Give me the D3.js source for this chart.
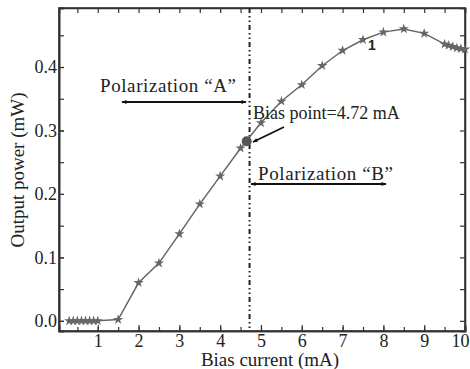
<!DOCTYPE html>
<html>
<head>
<meta charset="utf-8">
<script src="https://cdn.jsdelivr.net/npm/d3@7"></script>
<style>
  body { margin: 0; background: #fff; }
  text { font-family: "Liberation Serif", "Times New Roman", serif; }
</style>
</head>
<body>
<script>
// measured points, bias current (mA) vs output power (mW)
var current = [0.3, 0.4, 0.5, 0.6, 0.7, 0.8, 0.9, 1.0, 1.5, 2.0, 2.5, 3.0, 3.5, 4.0, 4.5,
               5.0, 5.5, 6.0, 6.5, 7.0, 7.5, 8.0, 8.5, 9.0, 9.5, 9.6, 9.7, 9.8, 9.9, 10.0];
var power = [0, 0, 0, 0, 0, 0, 0, 0, 0.002, 0.060, 0.091, 0.137, 0.184, 0.228, 0.272,
             0.312, 0.346, 0.372, 0.402, 0.426, 0.443, 0.455, 0.460, 0.453, 0.436, 0.434, 0.432, 0.430, 0.429, 0.428];
var biasPoint = [4.65, 0.283];
var biasLine = 4.72;
var xTicks = [1, 2, 3, 4, 5, 6, 7, 8, 9, 10];
var yTicks = [0.0, 0.1, 0.2, 0.3, 0.4];

var W = 470, H = 369;
var m = { left: 59, right: 5, top: 8, bottom: 38 };

var svg = d3.select("body").append("svg").attr("width", W).attr("height", H);

var x = d3.scaleLinear().domain([0.05, 10]).range([m.left, W - m.right]);
var y = d3.scaleLinear().domain([-0.016, 0.493]).range([H - m.bottom, m.top]);

var defs = svg.append("defs");
defs.append("marker").attr("id", "ah").attr("viewBox", "0 0 10 10")
  .attr("refX", 9).attr("refY", 5).attr("markerWidth", 9).attr("markerHeight", 5)
  .attr("orient", "auto-start-reverse").attr("markerUnits", "userSpaceOnUse")
  .append("path").attr("d", "M0,1 L10,5 L0,9 Z").attr("fill", "#111");

var minorX = d3.range(0.5, 10.01, 0.5);
var minorY = d3.range(0, 0.49, 0.05);

// axes (ticks drawn inward)
var gx = svg.append("g").attr("transform", "translate(0," + (H - m.bottom) + ")");
gx.call(d3.axisBottom(x).tickValues(minorX).tickSize(-4).tickFormat(""));
gx.selectAll(".tick text").remove();
var gx2 = svg.append("g").attr("transform", "translate(0," + (H - m.bottom) + ")");
gx2.call(d3.axisBottom(x).tickValues(xTicks).tickSize(-6).tickFormat(d3.format("d")));

var gt = svg.append("g").attr("transform", "translate(0," + m.top + ")");
gt.call(d3.axisTop(x).tickValues(minorX).tickSize(-5).tickFormat(""));

var gy = svg.append("g").attr("transform", "translate(" + m.left + ",0)");
gy.call(d3.axisLeft(y).tickValues(minorY).tickSize(-5).tickFormat(""));
var gy2 = svg.append("g").attr("transform", "translate(" + m.left + ",0)");
gy2.call(d3.axisLeft(y).tickValues(yTicks).tickSize(-5).tickFormat(d3.format(".1f")));

var gr = svg.append("g").attr("transform", "translate(" + (W - m.right) + ",0)");
gr.call(d3.axisRight(y).tickValues(minorY).tickSize(-5).tickFormat(""));

svg.selectAll("g").attr("font-family", null).attr("font-size", null);
svg.selectAll(".domain").attr("stroke", "#333").attr("stroke-width", 1.6);
svg.selectAll(".tick line").attr("stroke", "#333").attr("stroke-width", 1.2);
svg.selectAll(".tick text").style("font-family", "'Liberation Serif', serif").style("font-size", "18px")
  .attr("fill", "#222");
gx2.selectAll(".tick text").attr("dy", "0.72em").attr("y", 3)
  .attr("dx", function (d) { return d === 10 ? -5 : 0; });
gy2.selectAll(".tick text").attr("x", -2);

// frame
svg.append("rect").attr("x", m.left).attr("y", m.top)
  .attr("width", W - m.right - m.left).attr("height", H - m.bottom - m.top)
  .attr("fill", "none").attr("stroke", "#333").attr("stroke-width", 1.6);

// bias line
svg.append("line").attr("x1", x(biasLine)).attr("x2", x(biasLine))
  .attr("y1", m.top).attr("y2", H - m.bottom)
  .attr("stroke", "#222").attr("stroke-width", 2).attr("stroke-dasharray", "5,3,1.5,3,1.5,3");

// curve
var pts = current.map(function (c, i) { return [c, power[i]]; });
svg.append("path").attr("d", d3.line().x(function (d) { return x(d[0]); }).y(function (d) { return y(d[1]); })(pts))
  .attr("fill", "none").attr("stroke", "#666").attr("stroke-width", 1.5);

var star = d3.symbol().type(d3.symbolStar).size(32);
svg.selectAll("path.pt").data(pts).enter().append("path").attr("class", "pt")
  .attr("d", star)
  .attr("transform", function (d) { return "translate(" + x(d[0]) + "," + y(d[1]) + ")"; })
  .attr("fill", "#666");

svg.append("circle").attr("cx", x(biasPoint[0])).attr("cy", y(biasPoint[1])).attr("r", 5)
  .attr("fill", "#555");

// curve label
svg.append("text").attr("x", 368).attr("y", 50).style("font-family", "'Liberation Sans', Arial, sans-serif")
  .attr("font-weight", "bold").attr("font-size", 14).attr("fill", "#222").text("1");

// annotations
function arrow(x1, y1, x2, y2, both) {
  var l = svg.append("line").attr("x1", x1).attr("y1", y1).attr("x2", x2).attr("y2", y2)
    .attr("stroke", "#111").attr("stroke-width", 1.8).attr("marker-end", "url(#ah)");
  if (both) l.attr("marker-start", "url(#ah)");
}
svg.append("text").attr("x", 100).attr("y", 92).attr("font-size", 19).attr("fill", "#222")
  .attr("textLength", 136).text("Polarization \u201CA\u201D");
arrow(246, 102, 122, 102, true);

svg.append("text").attr("x", 253).attr("y", 119).attr("font-size", 18).attr("fill", "#222")
  .text("Bias point=4.72 mA");
arrow(284, 127, 253, 142, false);

svg.append("text").attr("x", 258).attr("y", 180).attr("font-size", 19).attr("fill", "#222")
  .attr("textLength", 135).text("Polarization \u201CB\u201D");
arrow(251, 184, 386, 184, true);

// axis titles
svg.append("text").attr("x", 270).attr("y", 366).attr("text-anchor", "middle")
  .attr("font-size", 19).attr("fill", "#222").text("Bias current (mA)");
svg.append("text").attr("transform", "translate(24," + 170 + ") rotate(-90)")
  .attr("text-anchor", "middle").attr("font-size", 19).attr("fill", "#222").text("Output power (mW)");
</script>
</body>
</html>
